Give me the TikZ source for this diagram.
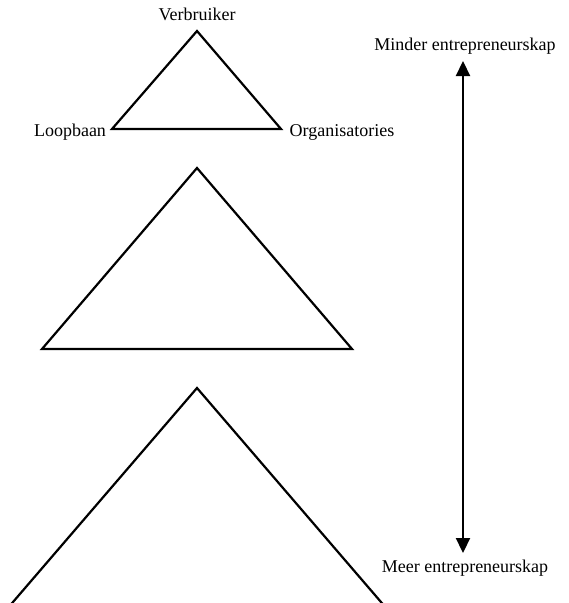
\documentclass[tikz,border=0pt]{standalone}
\usepackage{fontspec}
\setmainfont{Liberation Serif}
\usetikzlibrary{arrows.meta}
\begin{document}
\begin{tikzpicture}[x=1pt,y=-1pt,
  lbl/.style={font=\fontsize{18}{21}\selectfont, inner sep=0pt, text height=12pt, text depth=4pt},
  tri/.style={draw=black, line width=2.2pt, line join=miter},
  axis/.style={line width=2.2pt, {Triangle[width=14pt,length=15pt]}-{Triangle[width=14pt,length=15pt]}}]
\useasboundingbox (0,0) rectangle (569,603);
% triangle 1
\coordinate (a1) at (197,31);
\coordinate (b1) at (112,129);
\coordinate (c1) at (281,129);
\draw[tri] (a1) -- (b1) -- (c1) -- cycle;
% triangle 2
\coordinate (a2) at (197,168);
\coordinate (b2) at (42,349);
\coordinate (c2) at (352,349);
\draw[tri] (a2) -- (b2) -- (c2) -- cycle;
% triangle 3 (cut off)
\begin{scope}
\clip (0,0) rectangle (569,603);
\coordinate (a3) at (197,388);
\coordinate (b3) at (7,609);
\coordinate (c3) at (387,609);
\draw[tri] (b3) -- (a3) -- (c3);
\end{scope}
% labels
\node[lbl] (verb) at (197,16) {Verbruiker};
\node[lbl] (loop) at (70,132) {Loopbaan};
\node[lbl] (org) at (342,132) {Organisatories};
\node[lbl] (minder) at (465,46) {Minder entrepreneurskap};
\node[lbl] (meer) at (465,568) {Meer entrepreneurskap};
% axis
\coordinate (top) at (463,61);
\coordinate (bot) at (463,553);
\draw[axis] (top) -- (bot);
\end{tikzpicture}
\end{document}
